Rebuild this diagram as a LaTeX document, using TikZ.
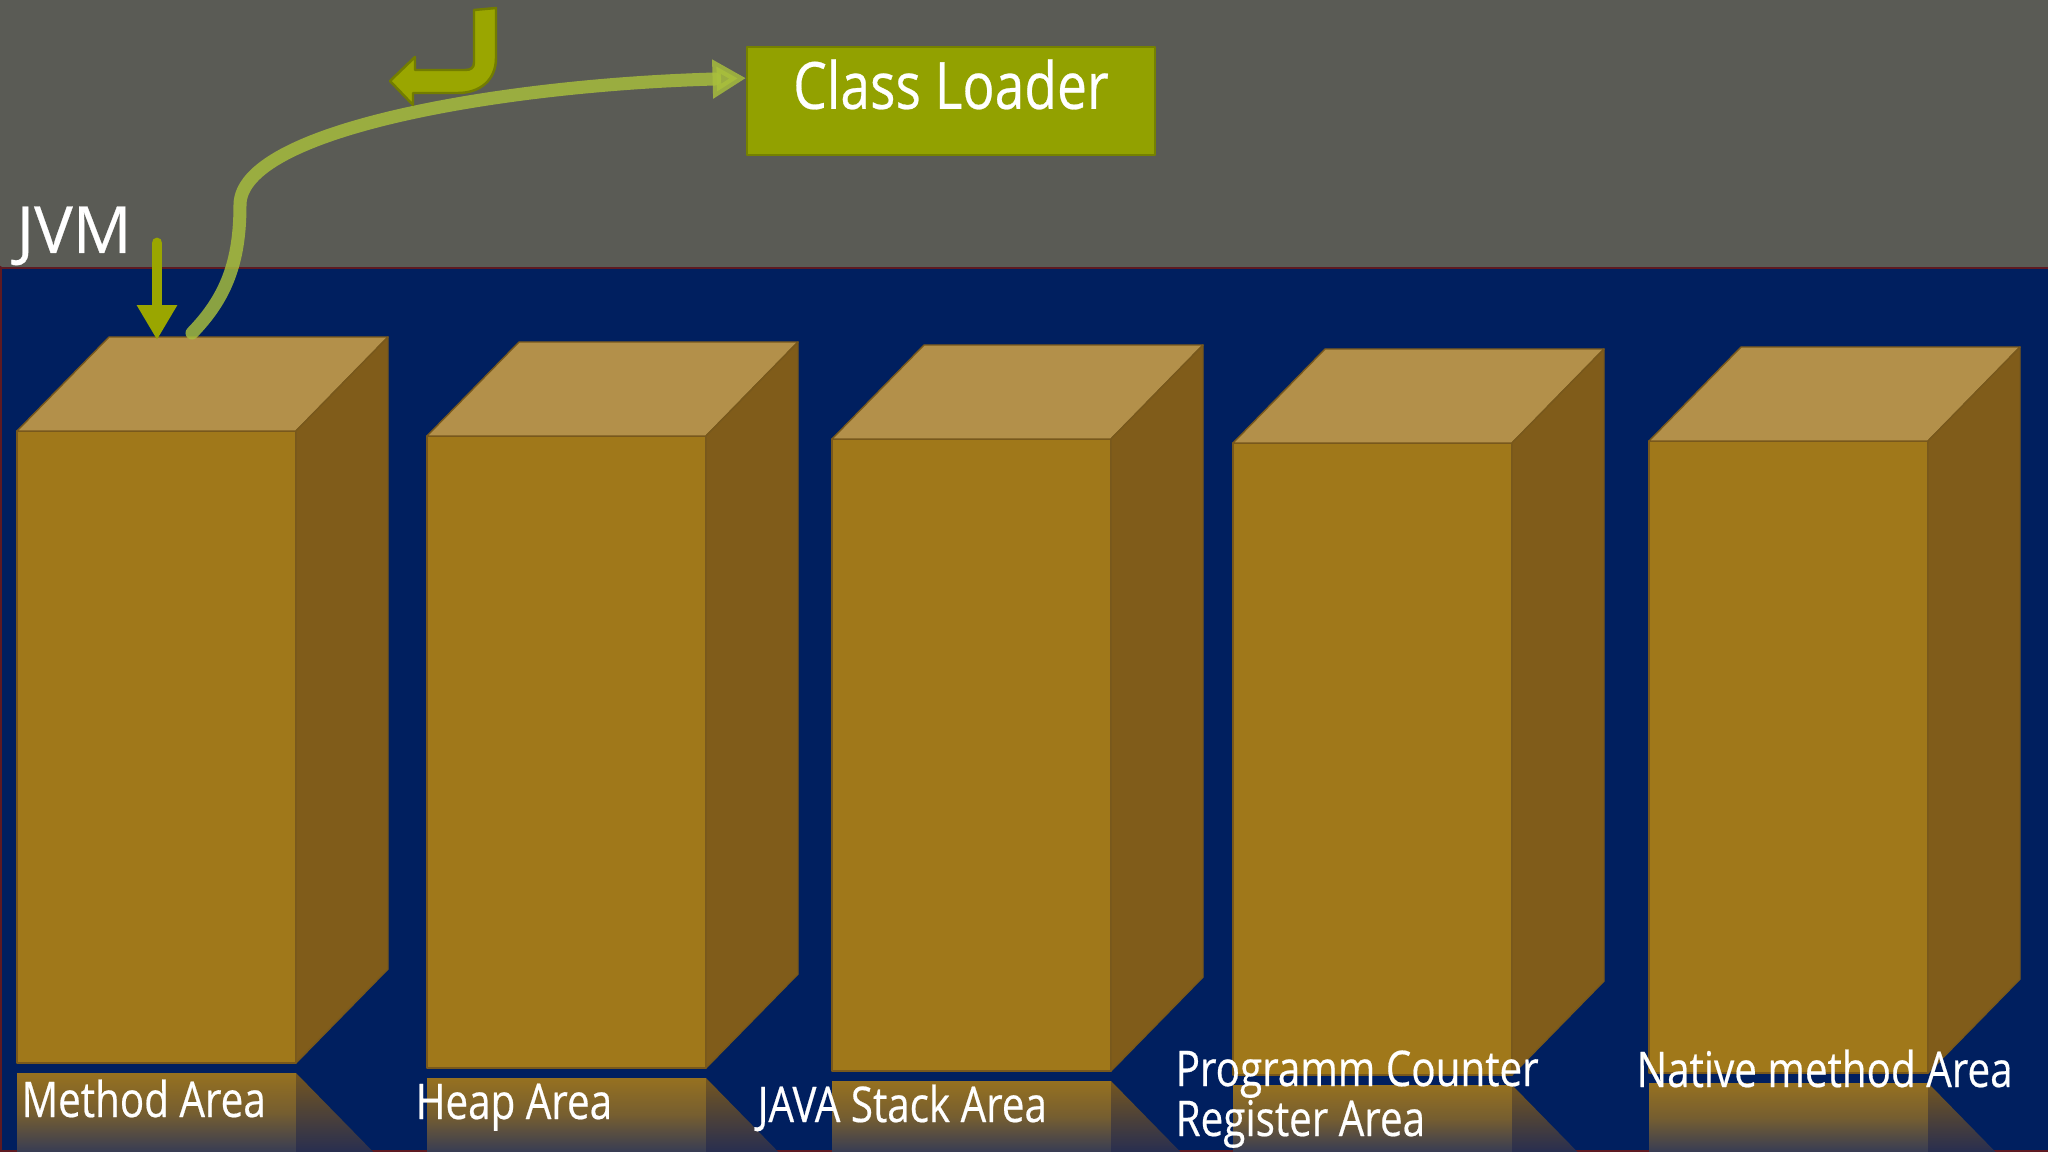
\documentclass[tikz,border=0pt]{standalone}
\usepackage{fontspec}
\setmainfont[FakeStretch=0.82, FakeBold=0.4]{Open Sans}
\newfontfamily\widefont[FakeBold=0.4]{Open Sans}
\usetikzlibrary{arrows.meta}
\definecolor{slate}{HTML}{5A5B55}
\definecolor{navy}{HTML}{001F5F}
\definecolor{seam}{HTML}{5E1A22}
\definecolor{olive}{HTML}{92A100}
\definecolor{lime}{HTML}{A9C03C}
\definecolor{jvmgreen}{HTML}{9AA600}
\definecolor{goldfront}{RGB}{160,120,26}
\definecolor{goldtop}{RGB}{179,144,74}
\definecolor{goldside}{RGB}{128,92,26}
\definecolor{goldedge}{RGB}{120,88,28}
\begin{document}
\begin{tikzpicture}[x=0.01cm, y=-0.01cm, line join=round, line cap=round,
    front/.style={fill=goldfront, draw=goldedge, line width=0.4pt},
    topface/.style={fill=goldtop, draw=goldedge, line width=0.4pt},
    sideface/.style={fill=goldside, draw=goldedge, line width=0.4pt},
    title/.style={text=white, font=\fontsize{18.5}{22}\selectfont, inner sep=0pt},
    lbl/.style={text=white, font=\fontsize{14}{14.2}\selectfont, inner sep=0pt, anchor=base west, align=left},
    loader/.style={fill=olive, draw=olive!80!black, line width=0.6pt, minimum width=116pt, minimum height=30.6pt, text depth=9.6pt, title},
    feed/.style={lime, opacity=0.82, line width=3.7pt, -{Triangle[width=10.5pt,length=9.5pt]}},
    jvmarrow/.style={jvmgreen, line width=3.1pt, -{Triangle[width=10.8pt,length=9.9pt]}}]
	\def\bw{279}
	\def\bh{632}
	\def\dx{92}
	\def\dy{94}
	\clip (0,0) rectangle (2048,1152);
	\fill[slate] (0,0) rectangle (2048,268);
	\fill[navy] (0,268) rectangle (2048,1152);
	\draw[seam, line width=0.8pt] (0,268) -- (2048,268);
	\draw[seam, line width=1.2pt] (0,268) -- (0,1152) -- (2048,1152);
	\foreach \x/\y in {17/431, 427/436, 832/439, 1233/443, 1649/441}{
		\shade[top color={rgb,255:red,150;green,113;blue,32}, bottom color={rgb,255:red,55;green,60;blue,84}, middle color={rgb,255:red,118;green,94;blue,48}] (\x,\y+\bh+10) rectangle (\x+\bw,1152);
		\shade[top color={rgb,255:red,116;green,86;blue,32}, bottom color={rgb,255:red,40;green,46;blue,80}] (\x+\bw,\y+\bh+10) -- ({\x+\bw+(1152-\y-\bh-10)*\dx/\dy},1152) -- (\x+\bw,1152) -- cycle;
		\filldraw[front] (\x,\y) rectangle ++(\bw,\bh);
		\filldraw[topface] (\x,\y) -- ++(\dx,-\dy) -- ++(\bw,0) -- ++(-\dx,\dy) -- cycle;
		\filldraw[sideface] (\x+\bw,\y) -- ++(\dx,-\dy) -- ++(0,\bh) -- ++(-\dx,\dy) -- cycle;
	}
	\node[lbl] (method) at (21,1117) {Method Area};
	\node[lbl] (heap) at (415,1119) {Heap Area};
	\node[lbl] (stack) at (757,1122) {JAVA Stack Area};
	\node[lbl] (counter) at (1175,1136) {Programm Counter\\Register Area};
	\node[lbl] (native) at (1636,1087) {Native method Area};
	\node[title, font=\widefont\fontsize{18.5}{22}\selectfont, anchor=base west] (jvm) at (16,253) {JVM};
	\node[loader] (loader) at (951,101) {Class Loader};
	\coordinate (jvmtail) at (157,243);
	\coordinate (jvmtip) at (157,340);
	\coordinate (mtop) at (192,333);
	\draw[jvmarrow] (jvmtail) -- (jvmtip);
	\draw[feed] (mtop) .. controls (226,298) and (240,262) .. (240,205) .. controls (240,130) and (500,85) .. ([yshift=6.5pt]loader.west);
	\filldraw[fill=jvmgreen, draw=jvmgreen!75!black, line width=0.7pt] (474,10) -- (474,62) .. controls (474,68) and (471,70) .. (465,70) -- (415,70) -- (415,57) -- (390,81) -- (413,105) -- (413,93) -- (458,93) .. controls (480,93) and (496,80) .. (496,58) -- (496,8) -- cycle;
\end{tikzpicture}
\end{document}
